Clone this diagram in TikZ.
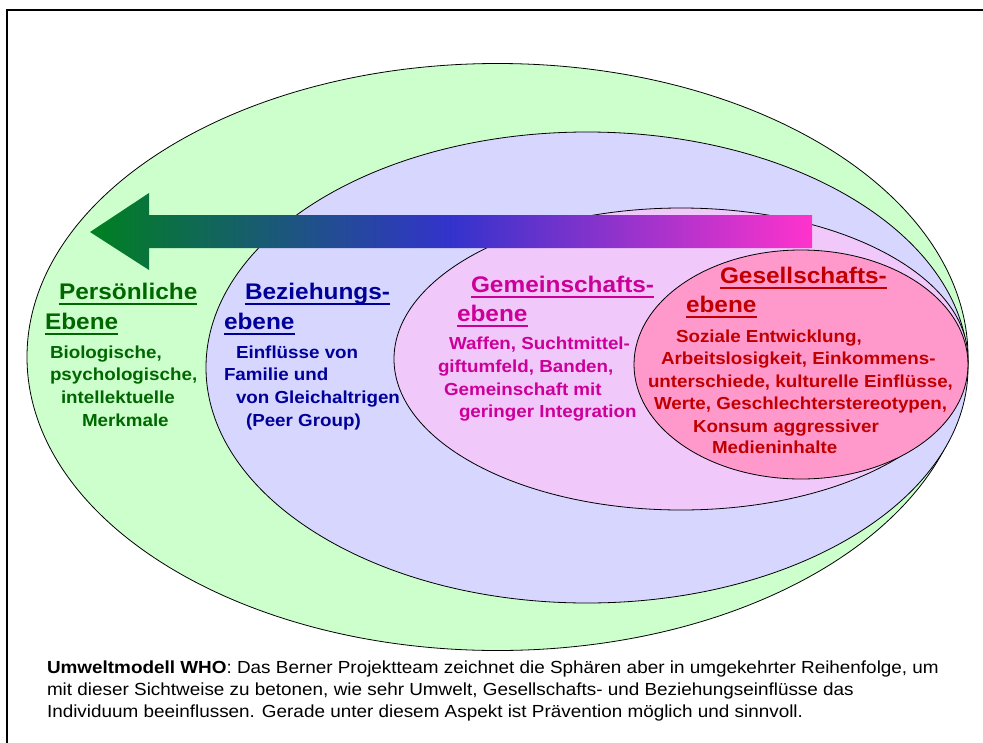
\documentclass[tikz,border=0pt]{standalone}
\usepackage{fontspec}
\setmainfont{Liberation Sans}[FakeStretch=1.08]
\definecolor{grnF}{HTML}{CCFFCC}
\definecolor{bluF}{HTML}{D6D6FF}
\definecolor{pnkF}{HTML}{F0C8FA}
\definecolor{redF}{HTML}{FF99CC}
\definecolor{grnT}{HTML}{006600}
\definecolor{bluT}{HTML}{000099}
\definecolor{magT}{HTML}{CC0099}
\definecolor{redT}{HTML}{C00000}
\definecolor{arrG}{HTML}{008020}
\definecolor{arrB}{HTML}{3333CC}
\definecolor{arrM}{HTML}{FF33CC}
\newcommand\ulx[1]{\setbox0\hbox{#1}\rlap{\rule[-5.8pt]{\wd0}{2.3pt}}\box0}
\begin{document}
\begin{tikzpicture}[x=1pt,y=-1pt,
  ell/.style={draw=black,line width=0.8pt},
  txt/.style={anchor=base west,inner sep=0pt,outer sep=0pt},
  ttl/.style={txt,font=\fontsize{22.6}{26}\selectfont\bfseries},
  bdy/.style={txt,font=\fontsize{17.4}{21}\selectfont\bfseries},
  captxt/.style={txt,font=\fontsize{17.5}{21}\selectfont,text=black}]
\useasboundingbox (0,0) rectangle (983,742);
\fill[white] (0,0) rectangle (983,742);
% frame
\draw[line width=2pt] (7,750) -- (7,10) -- (990,10);
% ellipses
\draw[ell,fill=grnF] (497.5,357) ellipse [x radius=470.5pt, y radius=293.5pt];
\draw[ell,fill=bluF] (587,367.5) ellipse [x radius=381pt, y radius=235.5pt];
\draw[ell,fill=pnkF] (681,359) ellipse [x radius=287pt, y radius=151pt];
\draw[ell,fill=redF] (801,364.5) ellipse [x radius=167pt, y radius=114.5pt];
% arrow
\shade[left color=arrG, right color=arrM, middle color=arrB]
  (812,215) -- (149,215) -- (149,193) -- (90,232) -- (149,270) -- (149,248) -- (812,248) -- cycle;
% green texts
\begin{scope}[text=grnT]
\node[ttl] (g1) at (59,299) {\ulx{Persönliche}};
\node[ttl] (g2) at (45,329) {\ulx{Ebene}};
\node[bdy] (g3) at (50,358) {Biologische,};
\node[bdy] (g4) at (50,380) {psychologische,};
\node[bdy] (g5) at (61,403) {intellektuelle};
\node[bdy] (g6) at (82,426) {Merkmale};
\end{scope}
% blue texts
\begin{scope}[text=bluT]
\node[ttl] (b1) at (245,299) {\ulx{Beziehungs-}};
\node[ttl] (b2) at (224,329) {\ulx{ebene}};
\node[bdy] (b3) at (236,358) {Einflüsse von};
\node[bdy] (b4) at (224,380) {Familie und};
\node[bdy] (b5) at (236,403) {von Gleichaltrigen};
\node[bdy] (b6) at (246,426) {(Peer Group)};
\end{scope}
% magenta texts
\begin{scope}[text=magT]
\node[ttl] (m1) at (471,292) {\ulx{Gemeinschafts-}};
\node[ttl] (m2) at (457,321) {\ulx{ebene}};
\node[bdy] (m3) at (449,349) {Waffen, Suchtmittel-};
\node[bdy] (m4) at (438,372) {giftumfeld, Banden,};
\node[bdy] (m5) at (444,395) {Gemeinschaft mit};
\node[bdy] (m6) at (459,417) {geringer Integration};
\end{scope}
% red texts
\begin{scope}[text=redT]
\node[ttl] (r1) at (720,283) {\ulx{Gesellschafts-}};
\node[ttl] (r2) at (686,312) {\ulx{ebene}};
\node[bdy] (r3) at (676,342) {Soziale Entwicklung,};
\node[bdy] (r4) at (661,364) {Arbeitslosigkeit, Einkommens-};
\node[bdy] (r5) at (648,387) {unterschiede, kulturelle Einflüsse,};
\node[bdy] (r6) at (654,409) {Werte, Geschlechterstereotypen,};
\node[bdy] (r7) at (693,432) {Konsum aggressiver};
\node[bdy] (r8) at (712,453) {Medieninhalte};
\end{scope}
% caption
\node[captxt] (c1) at (47,673) {\textbf{Umweltmodell WHO}: Das Berner Projektteam zeichnet die Sphären aber in umgekehrter Reihenfolge, um};
\node[captxt] (c2) at (47,695) {mit dieser Sichtweise zu betonen, wie sehr Umwelt, Gesellschafts- und Beziehungseinflüsse das};
\node[captxt] (c3) at (47,717) {Individuum beeinflussen. Gerade unter diesem Aspekt ist Prävention möglich und sinnvoll.};
\end{tikzpicture}
\end{document}
